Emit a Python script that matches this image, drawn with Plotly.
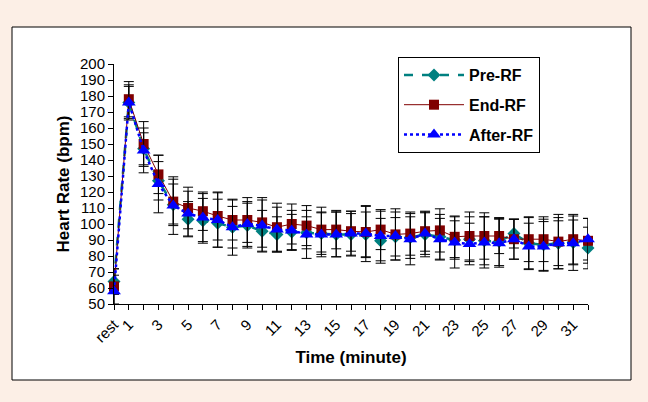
import plotly.graph_objects as go

categories = ["rest", "1", "2", "3", "4", "5", "6", "7", "8", "9", "10", "11", "12", "13", "14", "15",
              "16", "17", "18", "19", "20", "21", "22", "23", "24", "25", "26", "27", "28", "29", "30",
              "31", "32"]
tick_labels = ["rest", "1", "", "3", "", "5", "", "7", "", "9", "", "11", "", "13", "", "15",
               "", "17", "", "19", "", "21", "", "23", "", "25", "", "27", "", "29", "",
               "31", ""]

pre_rf = [64, 176, 147, 127, 112, 103, 102, 100.5, 98, 99, 95.5, 93.5, 95, 94.5, 94, 93.5,
          93.5, 93.5, 89.5, 92, 91.5, 93.5, 92, 90, 90.5, 89.5, 89, 94, 88, 87, 88, 88.5, 85]
pre_err = [8, 10, 10, 12, 13, 11, 14, 15, 13, 14, 13, 11, 11, 10, 13, 14,
           13, 14, 14, 12, 13, 14, 14, 12, 14, 15, 15, 9, 16, 16, 14, 14, 13]

end_rf = [61, 178, 150, 131, 114, 110, 108, 105, 102.5, 102.5, 101, 98, 100, 99, 96.5, 96.5,
          95.5, 95, 96.5, 93.5, 94, 95.5, 96, 92, 92.5, 92.5, 92.5, 90.5, 90.5, 90.5, 89, 90.5, 89.5]
end_err = [11, 11, 14, 12, 14, 13, 12, 15, 12.5, 14, 15.5, 15, 12.5, 12.5, 14, 12,
           12.5, 16, 12.5, 16, 13.5, 12.5, 13.5, 13, 15, 14.5, 11, 12.5, 14, 14, 17, 15.5, 14]

after_rf = [58, 176, 146, 125, 111.5, 106.5, 104, 102.5, 98, 100, 99, 96.5, 96, 93.5, 93.5, 93.5,
            94, 94, 92.5, 92.5, 90.5, 94, 90.5, 88.5, 87.5, 88.5, 88, 90.5, 86, 86, 88, 88, 90.5]
after_err = [10, 11, 14, 18, 18, 14, 15, 17, 17.5, 14, 16, 14, 12.5, 15, 14, 14,
             14, 17.5, 15.5, 15, 16, 13, 13, 16, 13, 16, 15, 12.5, 14.5, 15.5, 16, 17, 13]

FONT = "Liberation Sans, Arial, sans-serif"

def err(arr):
    return dict(type="data", array=arr, visible=True, color="black", thickness=1, width=5)

fig = go.Figure()
fig.add_trace(go.Scatter(
    x=categories, y=pre_rf, name="Pre-RF", mode="lines+markers",
    line=dict(color="#008080", width=2.5, dash="dash"),
    marker=dict(symbol="diamond", size=10, color="#008080"),
    error_y=err(pre_err), cliponaxis=False, legendgroup="a"))
fig.add_trace(go.Scatter(
    x=categories, y=end_rf, name="End-RF", mode="lines+markers",
    line=dict(color="#800000", width=1),
    marker=dict(symbol="square", size=10, color="#800000"),
    error_y=err(end_err), cliponaxis=False, legendgroup="b"))
fig.add_trace(go.Scatter(
    x=categories, y=after_rf, name="After-RF", mode="lines+markers",
    line=dict(color="#0000FF", width=2.5, dash="dot"),
    marker=dict(symbol="triangle-up", size=12, color="#0000FF"),
    error_y=err(after_err), cliponaxis=False, legendgroup="c"))

L, R, T, B = 114, 60, 64, 98
W, H = 648, 402
pw, ph = W - L - R, H - T - B

def px_x(p):
    return (p - L) / pw

def px_y(p):
    return (H - B - p) / ph

fig.update_layout(
    width=W, height=H,
    margin=dict(l=L, r=R, t=T, b=B, autoexpand=False),
    paper_bgcolor="#FCEFE6",
    plot_bgcolor="white",
    font=dict(family=FONT, color="black", size=14),
    showlegend=True,
    hovermode=False,
    legend=dict(
        x=px_x(398), y=px_y(57), xanchor="left", yanchor="top",
        bgcolor="white", bordercolor="black", borderwidth=1,
        font=dict(family=FONT, size=16, color="black", weight="bold"),
        traceorder="grouped", tracegroupgap=6, itemwidth=60,
    ),
    shapes=[dict(type="rect", xref="paper", yref="paper",
                 x0=px_x(12), x1=px_x(631), y0=px_y(380), y1=px_y(27),
                 line=dict(color="black", width=1), fillcolor="white", layer="below")],
)
fig.update_xaxes(
    type="category", categoryorder="array", categoryarray=categories,
    range=[0, len(categories) - 1],
    tickmode="array", tickvals=categories, ticktext=tick_labels, tickangle=-45,
    ticks="outside", ticklen=5, tickcolor="black", showline=True, linecolor="black", linewidth=1,
    showgrid=False, zeroline=False,
    tickfont=dict(family=FONT, size=15),
    title=dict(text="Time (minute)", font=dict(family=FONT, size=17, weight="bold"), standoff=6),
)
fig.update_yaxes(
    range=[50, 200], dtick=10, tick0=50,
    ticks="outside", ticklen=5, tickcolor="black", showline=True, linecolor="black", linewidth=1,
    showgrid=False, zeroline=False,
    tickfont=dict(family=FONT, size=15),
    title=dict(text="Heart Rate (bpm)", font=dict(family=FONT, size=17, weight="bold"), standoff=6),
)

fig.write_html("out.html", config={"displayModeBar": False},
               post_script="document.body.style.margin='0';document.body.style.background='#FCEFE6';")
